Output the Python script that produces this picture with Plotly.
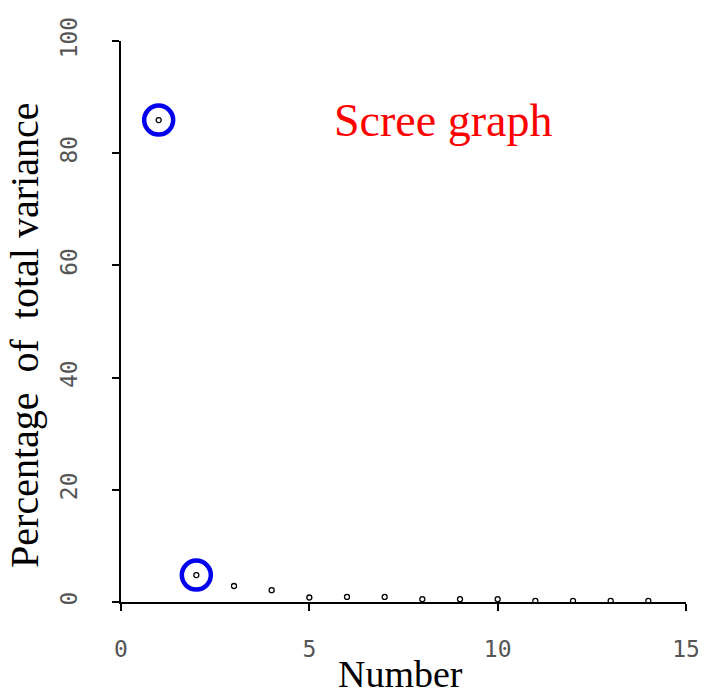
import plotly.graph_objects as go

# Data
component_number = [1, 2, 3, 4, 5, 6, 7, 8, 9, 10, 11, 12, 13, 14]
pct_variance = [85.9, 4.8, 2.85, 2.1, 0.8, 0.9, 0.9, 0.5, 0.5, 0.5, 0.2, 0.2, 0.2, 0.2]
highlighted = [0, 1]  # indices circled in blue

x_ticks = [0, 5, 10, 15]
y_ticks = [0, 20, 40, 60, 80, 100]

fig = go.Figure()

fig.add_trace(go.Scatter(
    x=component_number, y=pct_variance, mode="markers",
    marker=dict(symbol="circle-open", size=5, color="black", line=dict(width=1.3, color="black")),
    cliponaxis=False, showlegend=False, hoverinfo="x+y",
))

fig.add_trace(go.Scatter(
    x=[component_number[i] for i in highlighted],
    y=[pct_variance[i] for i in highlighted],
    mode="markers",
    marker=dict(symbol="circle-open", size=29, color="#0000ee", line=dict(width=4.5, color="#0000ee")),
    cliponaxis=False, showlegend=False, hoverinfo="skip",
))

tick_font = dict(family="DejaVu Sans Mono", size=23, color="#555555")

fig.update_layout(
    width=706, height=695,
    margin=dict(l=121, r=20, t=41, b=93, autoexpand=False),
    paper_bgcolor="white", plot_bgcolor="white",
    xaxis=dict(
        range=[0, 15], tickvals=x_ticks, ticktext=[str(v) for v in x_ticks],
        showgrid=False, zeroline=False, showline=True, linecolor="black", linewidth=2,
        ticks="outside", ticklen=7, tickwidth=1.5, tickcolor="black",
        tickfont=tick_font, ticklabelstandoff=18, automargin=False,
        ticklabeloverflow="allow",
    ),
    yaxis=dict(
        range=[0, 100], tickvals=y_ticks, ticktext=[str(v) for v in y_ticks],
        showgrid=False, zeroline=False, showline=True, linecolor="black", linewidth=2,
        ticks="outside", ticklen=7, tickwidth=1.5, tickcolor="black",
        tickfont=tick_font, tickangle=-90, ticklabelstandoff=26, automargin=False,
        ticklabeloverflow="allow",
    ),
    annotations=[
        dict(text="Number", xref="paper", yref="paper", x=0.494, y=-0.128,
             xanchor="center", yanchor="middle", showarrow=False,
             font=dict(family="Liberation Serif", size=38, color="black")),
        dict(text="Percentage\u00a0\u00a0of\u00a0\u00a0total variance", xref="paper", yref="paper",
             x=-0.170, y=0.476, xanchor="center", yanchor="middle", textangle=-90,
             showarrow=False, font=dict(family="Liberation Serif", size=40, color="black")),
        dict(text="Scree graph", xref="paper", yref="paper", x=0.570, y=0.859,
             xanchor="center", yanchor="middle", showarrow=False,
             font=dict(family="Liberation Serif", size=46, color="#ff0000")),
    ],
)

fig.write_html("out.html")
